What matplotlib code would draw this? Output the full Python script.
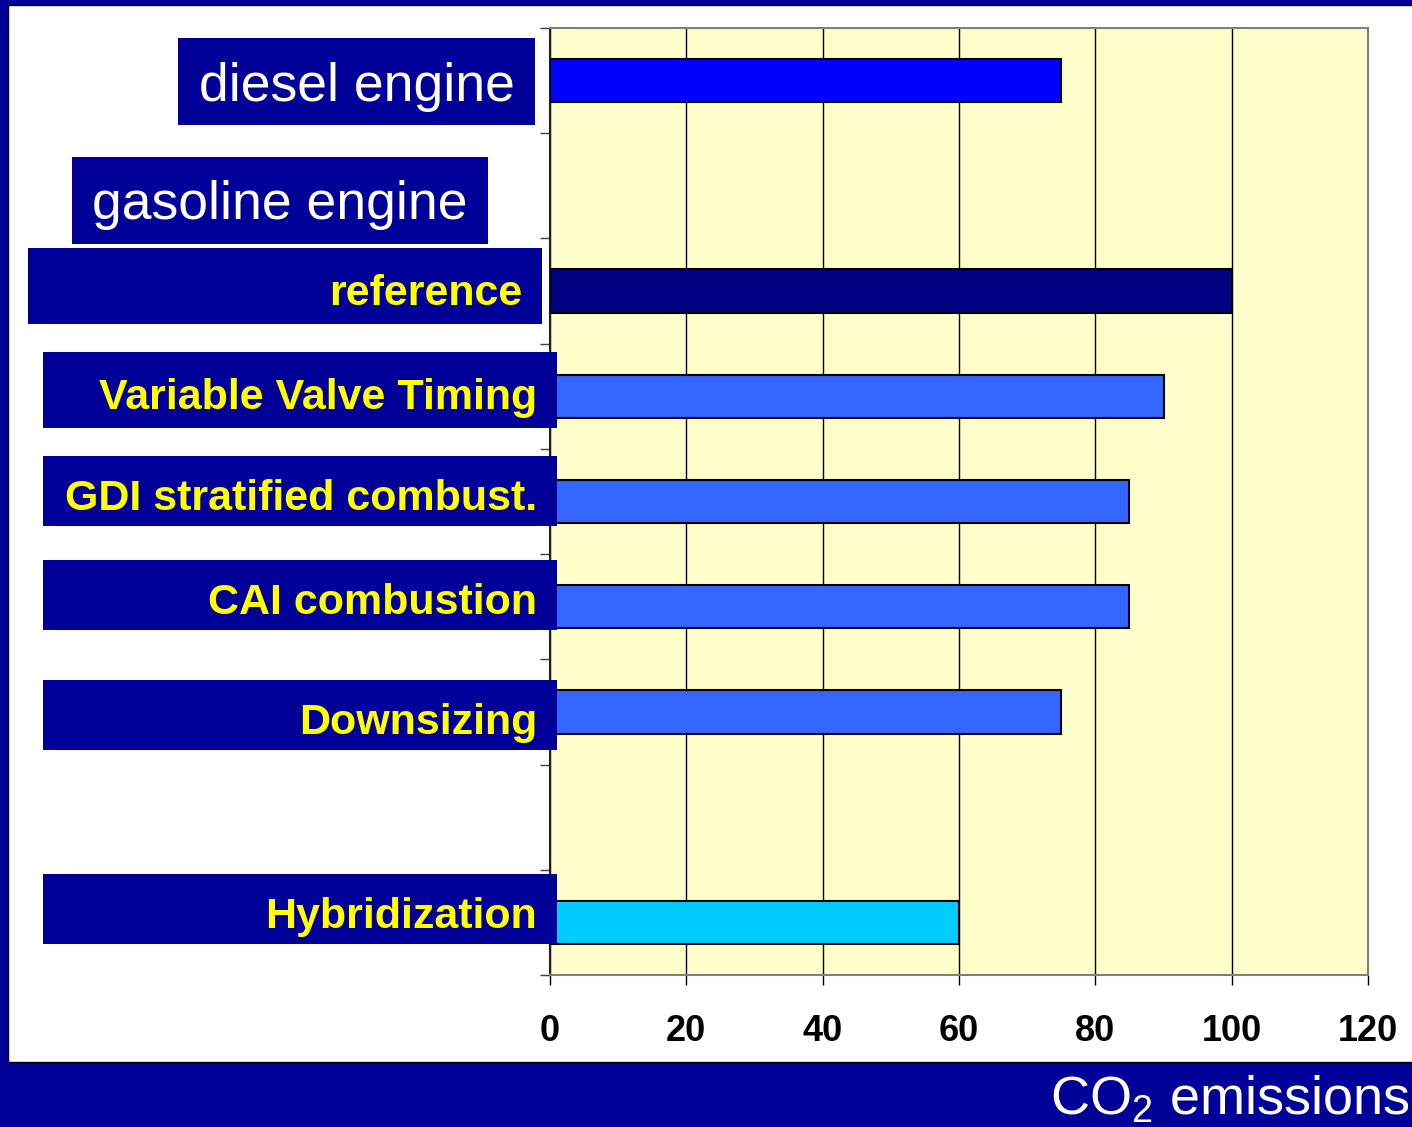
import matplotlib.pyplot as plt
import matplotlib.patches as mpatches
import numpy as np

plt.rcParams['font.family'] = ['Liberation Sans', 'DejaVu Sans']

# chart data (top to bottom), empty slots are spacer rows
categories = ["diesel engine", "", "reference", "Variable Valve Timing",
              "GDI stratified combust.", "CAI combustion", "Downsizing", "", "Hybridization"]
co2 = [75, np.nan, 100, 90, 85, 85, 75, np.nan, 60]
bar_colors = ["#0000FF", "none", "#000080", "#3366FF", "#3366FF",
              "#3366FF", "#3366FF", "none", "#00CCFF"]
xticks = [0, 20, 40, 60, 80, 100, 120]

# label boxes: (text, left, top, right, bottom) in pixels, style
label_boxes = [
    ("diesel engine", 178, 38, 535, 125, "head"),
    ("gasoline engine", 72, 157, 488, 244, "head"),
    ("reference", 28, 248, 542, 324, "item"),
    ("Variable Valve Timing", 43, 352, 557, 428, "item"),
    ("GDI stratified combust.", 43, 456, 557, 526, "item"),
    ("CAI combustion", 43, 560, 557, 630, "item"),
    ("Downsizing", 43, 680, 557, 750, "item"),
    ("Hybridization", 43, 874, 557, 944, "item"),
]

NAVY = "#000099"
W, H = 1412, 1127
fig = plt.figure(figsize=(W / 100, H / 100), dpi=100, facecolor=NAVY)

def fx(px):
    return px / W

def fy(py):
    return 1 - py / H

# white slide area
fig.patches.append(mpatches.Rectangle((fx(8), fy(1062)), 1, fy(5) - fy(1062),
                                      transform=fig.transFigure, facecolor="white",
                                      edgecolor="black", linewidth=1, zorder=-1))

ax = fig.add_axes([fx(550), fy(975), fx(1368) - fx(550), fy(28) - fy(975)])
ax.set_zorder(1)
ax.set_facecolor("#FFFFCC")
ypos = np.arange(len(categories))
ax.barh(ypos, co2, height=0.41, color=bar_colors, edgecolor="black", linewidth=1.5, zorder=3)
ax.set_xlim(0, 120)
ax.set_ylim(len(categories) - 0.5, -0.5)
ax.set_xticks(xticks)
ax.set_xticklabels([str(t) for t in xticks], fontsize=26, fontweight="bold")
ax.set_yticks(np.arange(len(categories) + 1) - 0.5)
ax.set_yticklabels([])
ax.tick_params(axis="x", direction="out", length=7, width=1, pad=21, colors="black")
ax.tick_params(axis="y", direction="out", length=7, width=1, color="#404040")
ax.grid(axis="x", color="black", linewidth=1, zorder=1)
for s in ["top", "right", "bottom"]:
    ax.spines[s].set_color("#808080")
    ax.spines[s].set_linewidth(1.5)
ax.spines["left"].set_color("#202020")
ax.spines["left"].set_linewidth(1.5)

for text, l, t, r, b, style in label_boxes:
    fig.patches.append(mpatches.Rectangle((fx(l), fy(b)), fx(r) - fx(l), fy(t) - fy(b),
                                          transform=fig.transFigure, facecolor=NAVY,
                                          edgecolor="none", zorder=5))
    base = fy((t + b) / 2 + 19)
    if style == "head":
        fig.text(fx((l + r) / 2), base, text, color="white", fontsize=38.5,
                 ha="center", va="baseline", zorder=6)
    else:
        fig.text(fx(r - 20), base, text, color="#FFFF00", fontsize=31, fontweight="bold",
                 ha="right", va="baseline", zorder=6)

# axis title in the bottom band
fig.text(fx(1410), fy(1114), r"CO$_\mathregular{2}$ emissions", color="white", fontsize=39,
         ha="right", va="baseline")

fig.savefig("out.png", dpi=100, facecolor=NAVY)
